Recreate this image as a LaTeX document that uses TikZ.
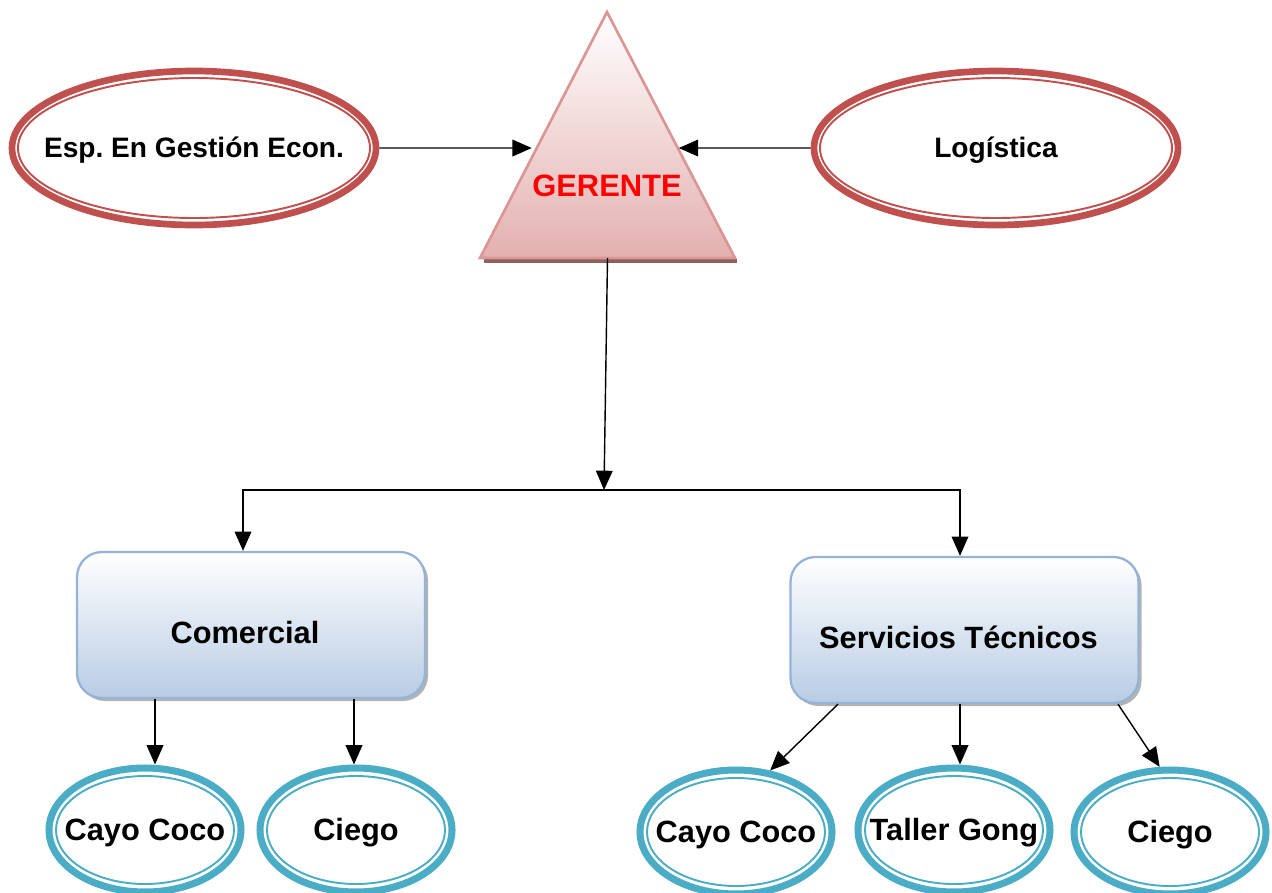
\documentclass[tikz,border=0pt]{standalone}
\usepackage{fontspec}
\setmainfont{Liberation Sans}
\frenchspacing
\usetikzlibrary{shapes.geometric,arrows.meta,calc,shadows}
\definecolor{redc}{HTML}{C0504D}
\definecolor{trib}{HTML}{D99694}
\definecolor{trif}{HTML}{E3B0AF}
\definecolor{boxb}{HTML}{95B3D7}
\definecolor{boxf}{HTML}{B8CCE4}
\definecolor{bluec}{HTML}{4BACC6}
\def\pxu{0.02cm}
\tikzset{
  txtbig/.style={font=\bfseries\fontsize{17.5}{21}\selectfont, yshift=-3*\pxu},
  txtmid/.style={font=\bfseries\fontsize{16}{19}\selectfont, yshift=-2*\pxu},
  redell/.style={ellipse, draw=redc, line width=3.8pt, minimum width=364*\pxu, minimum height=154*\pxu, inner sep=0pt},
  redin/.style={draw=redc, line width=1.1pt},
  unitbox/.style={rectangle, rounded corners=25*\pxu, draw=boxb, line width=1.3pt, top color=white, bottom color=boxf, minimum width=348*\pxu, minimum height=146*\pxu, inner sep=0pt, drop shadow={shadow xshift=3*\pxu, shadow yshift=-3*\pxu, fill=black!50, opacity=0.6}},
  blueell/.style={ellipse, draw=bluec, line width=4pt, minimum width=192*\pxu, minimum height=124*\pxu, inner sep=0pt},
  bluein/.style={draw=bluec, line width=1.1pt},
  arr/.style={-{Triangle[length=11pt,width=9.5pt]}, line width=0.8pt, black}
}
\begin{document}
\begin{tikzpicture}[x=0.02cm,y=-0.02cm]
\useasboundingbox (0,0) rectangle (1272,893);
% triangle
\coordinate (apex) at (607,12);
\coordinate (bl) at (480,258);
\coordinate (br) at (735,258);
\draw[line width=2pt, black!35!trib] ([xshift=4*\pxu, yshift=-3*\pxu]bl) -- ([xshift=2*\pxu, yshift=-3*\pxu]br);
\path[top color=white, bottom color=trif, draw=trib, line width=1.5pt, line join=miter] (apex) -- (bl) -- (br) -- cycle;
\node[font=\bfseries\fontsize{17.6}{21}\selectfont, text=red] (ger) at (607,186) {GERENTE};
\coordinate (basemid) at ($(bl)!0.5!(br)$);
\coordinate (tleft) at ($(apex)!0.553!(bl)$);
\coordinate (tright) at ($(apex)!0.553!(br)$);
% side ellipses
\node[redell, label={[txtmid]center:Esp. En Gestión Econ.}] (esp) at (194,148) {};
\draw[redin] (esp.center) ellipse [x radius=176, y radius=70];
\node[redell, label={[txtmid]center:Logística}] (log) at (996,148) {};
\draw[redin] (log.center) ellipse [x radius=176, y radius=70];
\draw[arr, shorten >=5*\pxu] (esp.east) -- (tleft);
\draw[arr, shorten >=1*\pxu] (log.west) -- (tright);
% units
\node[unitbox, label={[txtbig, xshift=-6*\pxu, yshift=-5*\pxu]center:Comercial}] (com) at (251,625) {};
\node[unitbox, label={[txtbig, xshift=-6*\pxu, yshift=-4*\pxu]center:Servicios Técnicos}] (srv) at (964.5,630) {};
\coordinate (junc) at (604,490);
\draw[arr] (basemid) -- (junc);
\draw[arr] (junc) -| ([xshift=-8*\pxu]com.north);
\draw[arr] (junc) -| ([xshift=-4.5*\pxu]srv.north);
% bottom ellipses
\node[blueell, label={[txtbig]center:Cayo Coco}] (cc1) at (145,830) {};
\node[blueell, label={[txtbig]center:Ciego}] (cg1) at (356,830) {};
\node[blueell, label={[txtbig]center:Cayo Coco}] (cc2) at (736,832) {};
\node[blueell, label={[txtbig]center:Taller Gong}] (tg) at (954,830) {};
\node[blueell, label={[txtbig]center:Ciego}] (cg2) at (1170,832) {};
\foreach \n in {cc1,cg1,cc2,tg,cg2}{
  \draw[bluein] (\n.center) ellipse [x radius=89, y radius=54];
}
\draw[arr] ([xshift=10*\pxu]cc1.north |- com.south) -- ([xshift=10*\pxu]cc1.north);
\draw[arr] ([xshift=-2*\pxu]cg1.north |- com.south) -- ([xshift=-2*\pxu]cg1.north);
\draw[arr] ([xshift=-126.5*\pxu]srv.south) -- (cc2.61);
\draw[arr] ([xshift=6*\pxu]tg.north |- srv.south) -- ([xshift=6*\pxu]tg.north);
\draw[arr] ([xshift=153.5*\pxu]srv.south) -- (cg2.99);
\end{tikzpicture}
\end{document}
